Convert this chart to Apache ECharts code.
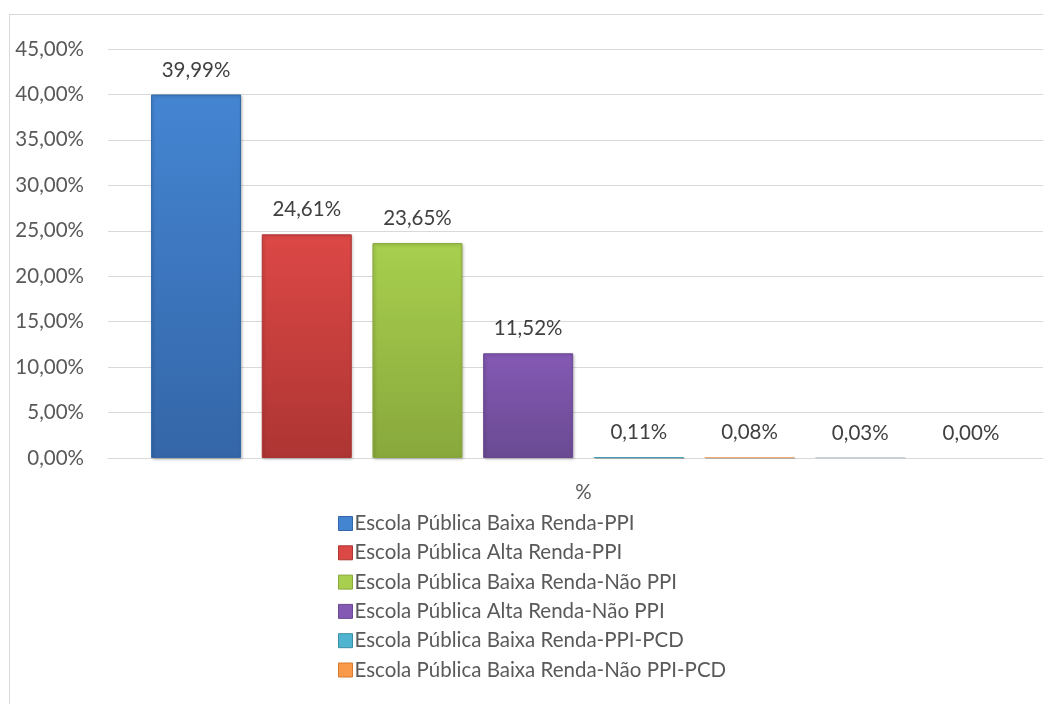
<!DOCTYPE html>
<html>
<head>
<meta charset="utf-8">
<script src="https://cdn.jsdelivr.net/npm/echarts@6/dist/echarts.min.js"></script>
<style>
  html, body { margin: 0; padding: 0; background: #fff; overflow: hidden; }
  #frame { position: absolute; left: 9px; top: 14px; width: 1100px; height: 800px; border: 1px solid #d9d9d9; }
  #chart { position: absolute; left: 0; top: 0; width: 1080px; height: 704px; }
</style>
</head>
<body>
<div id="frame"></div>
<div id="chart"></div>
<script>
  // dados do gráfico
  const categories = ['%'];
  const seriesNames = [
    'Escola Pública Baixa Renda-PPI',
    'Escola Pública Alta Renda-PPI',
    'Escola Pública Baixa Renda-Não PPI',
    'Escola Pública Alta Renda-Não PPI',
    'Escola Pública Baixa Renda-PPI-PCD',
    'Escola Pública Baixa Renda-Não PPI-PCD',
    'Escola Pública Alta Renda-PPI-PCD',
    'Escola Pública Alta Renda-Não PPI-PCD',
  ];
  const values = [39.99, 24.61, 23.65, 11.52, 0.11, 0.08, 0.03, 0.0];
  const legendNames = seriesNames.slice(0, 6);
  const yTicks = [0, 5, 10, 15, 20, 25, 30, 35, 40, 45];

  // cores (topo, base)
  const colors = [
    ['#4485d2', '#3466a8'],
    ['#dc4846', '#ad3533'],
    ['#a8cf4e', '#88a83c'],
    ['#8459b4', '#6a4a92'],
    ['#4fb4cf', '#3a8ea6'],
    ['#f99a4a', '#d57a2e'],
    ['#2c4d75', '#233d5e'],
    ['#772c2a', '#5e2321'],
  ];

  const fmt = (v) => v.toFixed(2).replace('.', ',') + '%';
  const font = 'Lato, "Open Sans", sans-serif';
  const fs = 20.5;

  const chart = echarts.init(document.getElementById('chart'));

  const series = seriesNames.map((name, i) => ({
    name: name,
    type: 'bar',
    data: [values[i]],
    barWidth: 90,
    barGap: '23%',
    itemStyle: {
      color: new echarts.graphic.LinearGradient(0, 0, 0, 1, [
        { offset: 0, color: colors[i][0] },
        { offset: 1, color: colors[i][1] },
      ]),
      borderColor: colors[i][1],
      borderWidth: values[i] < 0.5 ? 0 : 1,
      shadowColor: 'rgba(0,0,0,0.25)',
      shadowBlur: values[i] < 0.5 ? 0 : 3,
      shadowOffsetX: 1,
      shadowOffsetY: 1,
    },
    label: {
      show: true,
      position: 'top',
      distance: 14,
      formatter: (p) => fmt(p.value),
      color: '#404040',
      fontSize: fs,
      fontFamily: font,
    },
  }));

  const option = {
    animation: false,
    grid: { left: 108, right: 21, top: 49, height: 409 },
    legend: {
      data: legendNames.map((n, i) => ({ name: n, itemStyle: { color: colors[i][0], borderColor: colors[i][1], borderWidth: 1 } })),
      orient: 'vertical',
      left: 333,
      top: 508,
      icon: 'rect',
      itemWidth: 14,
      itemHeight: 14,
      itemGap: 8.3,
      textStyle: { color: '#595959', fontSize: fs, fontFamily: font, lineHeight: 20, padding: [0, 0, 0, -3] },
    },
    xAxis: {
      type: 'category',
      data: categories,
      axisLine: { lineStyle: { color: '#d9d9d9', width: 1 } },
      axisTick: { show: false },
      axisLabel: { color: '#595959', fontSize: fs, fontFamily: font, margin: 24 },
    },
    yAxis: {
      type: 'value',
      min: yTicks[0],
      max: yTicks[yTicks.length - 1],
      interval: 5,
      axisLine: { show: false },
      axisTick: { show: false },
      splitLine: { lineStyle: { color: '#d9d9d9', width: 1 } },
      axisLabel: { color: '#595959', fontSize: fs, fontFamily: font, margin: 24, formatter: (v) => fmt(v) },
    },
    series: series,
  };

  chart.setOption(option);
</script>
</body>
</html>
